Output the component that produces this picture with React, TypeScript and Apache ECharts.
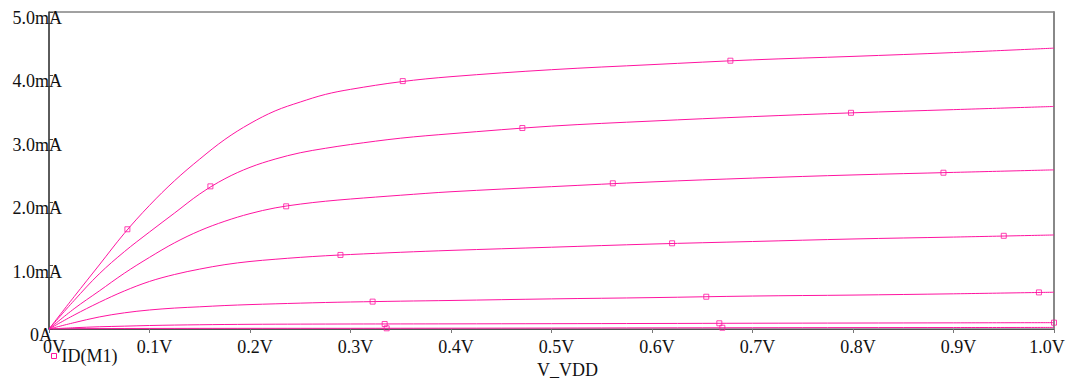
import React, { useEffect, useRef } from "react";
import * as echarts from "echarts";

const PINK = "#ff14a0";
const FONT = '"Liberation Serif", "Times New Roman", serif';

// V_VDD sample points (V)
const vdd = [0, 0.025, 0.05, 0.075, 0.1, 0.125, 0.15, 0.175, 0.2, 0.225, 0.25, 0.275, 0.3, 0.35, 0.4, 0.5, 0.6, 0.7, 0.8, 0.9, 1.0];

// ID(M1) in mA for each parametric step
const id1 = [0, 0.51, 1.01, 1.51, 1.95, 2.34, 2.68, 2.99, 3.24, 3.44, 3.58, 3.70, 3.78, 3.90, 3.98, 4.09, 4.17, 4.245, 4.30, 4.36, 4.43];
const id2 = [0, 0.45, 0.87, 1.22, 1.53, 1.83, 2.13, 2.37, 2.55, 2.68, 2.78, 2.85, 2.91, 3.01, 3.08, 3.20, 3.28, 3.35, 3.41, 3.46, 3.51];
const id3 = [0, 0.32, 0.60, 0.88, 1.13, 1.36, 1.55, 1.70, 1.82, 1.91, 1.97, 2.015, 2.05, 2.11, 2.165, 2.245, 2.32, 2.38, 2.43, 2.47, 2.51];
const id4 = [0, 0.22, 0.42, 0.60, 0.75, 0.86, 0.945, 1.015, 1.065, 1.10, 1.13, 1.155, 1.175, 1.21, 1.24, 1.29, 1.34, 1.38, 1.42, 1.45, 1.483];
const id5 = [0, 0.10, 0.19, 0.255, 0.30, 0.33, 0.35, 0.37, 0.385, 0.397, 0.408, 0.418, 0.426, 0.439, 0.45, 0.475, 0.495, 0.52, 0.535, 0.555, 0.58];
const id6 = [0, 0.02, 0.035, 0.045, 0.055, 0.062, 0.067, 0.071, 0.074, 0.076, 0.077, 0.078, 0.079, 0.08, 0.081, 0.084, 0.087, 0.091, 0.094, 0.097, 0.1];
const id7 = [0, 0.004, 0.006, 0.008, 0.009, 0.0095, 0.01, 0.0103, 0.0106, 0.0108, 0.011, 0.011, 0.011, 0.012, 0.013, 0.015, 0.018, 0.02, 0.022, 0.023, 0.025];
const curves = [id1, id2, id3, id4, id5, id6, id7];

// trace markers [V, mA]
const mark1 = [[0.078, 1.573], [0.352, 3.91], [0.678, 4.232]];
const mark2 = [[0.1606, 2.25], [0.471, 3.17], [0.798, 3.41]];
const mark3 = [[0.236, 1.935], [0.561, 2.298], [0.89, 2.465]];
const mark4 = [[0.29, 1.168], [0.62, 1.352], [0.95, 1.47]];
const mark5 = [[0.322, 0.432], [0.654, 0.509], [0.985, 0.577]];
const mark6 = [[0.334, 0.079], [0.667, 0.09], [1.0, 0.1]];
const mark7 = [[0.336, 0.011], [0.67, 0.02]];
const marks = [mark1, mark2, mark3, mark4, mark5, mark6, mark7];

const xTickLabels = ["0V", "0.1V", "0.2V", "0.3V", "0.4V", "0.5V", "0.6V", "0.7V", "0.8V", "0.9V", "1.0V"];
const yTickLabels = ["0A", "1.0mA", "2.0mA", "3.0mA", "4.0mA", "5.0mA"];
const traceName = "ID(M1)";
const xName = "V_VDD";

export default function App() {
  const ref = useRef<HTMLDivElement>(null);
  useEffect(() => {
    if (!ref.current) return;
    const chart = echarts.init(ref.current, undefined, { renderer: "svg" });
    const series: any[] = [];
    curves.forEach((c) => {
      series.push({
        type: "line",
        name: traceName,
        data: vdd.map((v, i) => [v, c[i]]),
        showSymbol: false,
        smooth: 0.35,
        lineStyle: { color: PINK, width: 1 },
        itemStyle: { color: PINK },
        z: 3,
      });
    });
    marks.forEach((m) => {
      series.push({
        type: "scatter",
        name: traceName,
        data: m,
        symbol: "rect",
        symbolSize: 5,
        itemStyle: { color: "rgba(255,255,255,0)", borderColor: PINK, borderWidth: 1 },
        z: 4,
      });
    });
    chart.setOption({
      animation: false,
      grid: { left: 49, right: 18, top: 12, bottom: 56, show: true, borderColor: "#444", borderWidth: 1 },
      legend: {
        data: [traceName],
        left: 51,
        top: 347,
        padding: 0,
        itemWidth: 5,
        itemHeight: 5,
        icon: "rect",
        selectedMode: false,
        itemStyle: { color: "#fff", borderColor: PINK, borderWidth: 1 },
        textStyle: { fontFamily: FONT, fontSize: 18, color: "#111", padding: [9, 0, 0, 0] },
      },
      xAxis: {
        type: "value",
        min: 0,
        max: 1,
        interval: 0.1,
        name: xName,
        nameLocation: "middle",
        nameGap: 31,
        nameTextStyle: { fontFamily: FONT, fontSize: 18, color: "#111", padding: [0, 0, 0, 32] },
        axisLine: { show: true, lineStyle: { color: "#555" } },
        axisTick: { show: true, inside: false, length: 4, lineStyle: { color: "#777" } },
        splitLine: { show: false },
        axisLabel: {
          margin: 9,
          fontFamily: FONT,
          fontSize: 18,
          color: "#111",
          padding: [0, 0, 0, 10],
          formatter: (v: number) => {
            const i = Math.round(v * 10);
            return i === 10 ? `{e|${xTickLabels[i]}}` : xTickLabels[i];
          },
          rich: { e: { fontFamily: FONT, fontSize: 18, color: "#111", padding: [0, 24, 0, 0] } },
        },
      },
      yAxis: [
        {
          type: "value",
          min: 0,
          max: 5,
          interval: 1,
          axisLine: { show: true, lineStyle: { color: "#444", width: 1.5 } },
          axisTick: { show: true, inside: true, length: 4, lineStyle: { color: "#444" } },
          splitLine: { show: false },
          axisLabel: {
            margin: -13,
            fontFamily: FONT,
            fontSize: 18,
            color: "#111",
            padding: [12, 0, 0, 0],
            formatter: (v: number) => {
              const i = Math.round(v);
              return i === 0 ? `{z|${yTickLabels[i]}}` : yTickLabels[i];
            },
            rich: { z: { fontFamily: FONT, fontSize: 18, color: "#111", padding: [0, 10, 0, 0] } },
          },
        },
        {
          type: "value",
          position: "right",
          min: 0,
          max: 5,
          interval: 1,
          axisLine: { show: true, lineStyle: { color: "#888", width: 2 } },
          axisTick: { show: false },
          axisLabel: { show: false },
          splitLine: { show: false },
        },
      ],
      series,
    });
    return () => chart.dispose();
  }, []);
  return <div ref={ref} style={{ position: "absolute", left: 0, top: 0, width: 1072, height: 385 }} />;
}
